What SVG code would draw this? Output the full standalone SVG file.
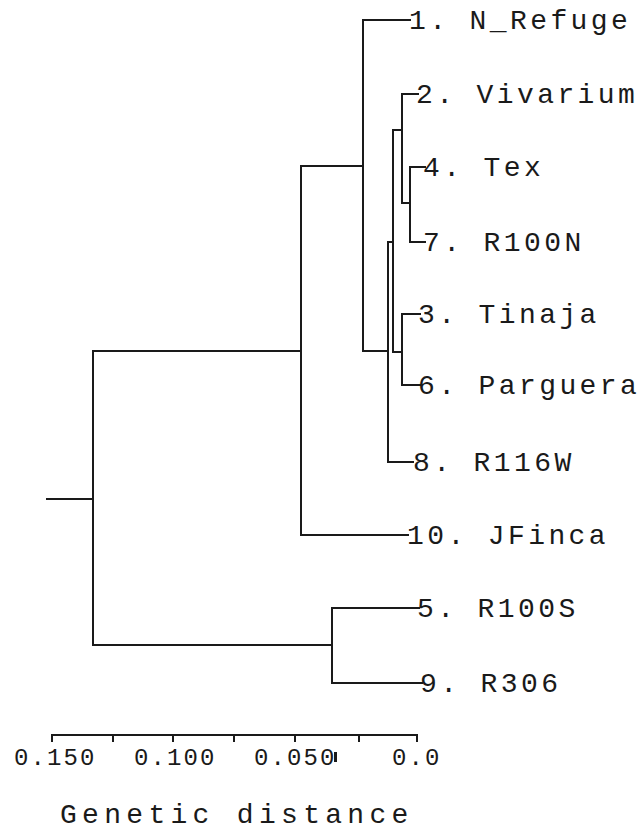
<svg xmlns="http://www.w3.org/2000/svg" width="639" height="834" viewBox="0 0 639 834">
  <style>
    .br { fill: none; stroke: #1a1a1a; stroke-width: 2; stroke-linecap: square; }
    .lbl { font-family: "Liberation Mono", "DejaVu Sans Mono", monospace; font-size: 28px; letter-spacing: 3.4px; fill: #1a1a1a; }
    .tick { font-family: "Liberation Mono", "DejaVu Sans Mono", monospace; font-size: 24px; letter-spacing: 2.1px; fill: #1a1a1a; }
    .title { font-family: "Liberation Mono", "DejaVu Sans Mono", monospace; font-size: 28px; letter-spacing: 5.3px; fill: #1a1a1a; }
  </style>
  <rect width="639" height="834" fill="#ffffff"/>

  <!-- dendrogram branches -->
  <g id="connectors" class="br">
    <!-- root -->
    <path d="M47,499 H93 M93,351 V645"/>
    <!-- main clade -->
    <path d="M93,351 H301 M301,166 V535 M301,535 H408"/>
    <!-- N_Refuge clade -->
    <path d="M301,166 H363 M363,20 V351 M363,20 H410"/>
    <!-- inner clades -->
    <path d="M363,351 H388 M388,242 V462 M388,462 H413"/>
    <path d="M388,242 H393 M393,130 V352"/>
    <path d="M393,130 H402 M402,94 V203 M402,94 H418"/>
    <path d="M402,203 H410 M410,167 V242 M410,167 H425 M410,242 H425"/>
    <path d="M393,352 H402 M402,314 V385 M402,314 H420 M402,385 H420"/>
    <!-- outgroup -->
    <path d="M93,645 H332 M332,608 V683 M332,608 H419 M332,683 H422"/>
  </g>

  <!-- leaf labels -->
  <g id="leaf-1"><text class="lbl" x="409" y="29">1. N_Refuge</text></g>
  <g id="leaf-2"><text class="lbl" x="416" y="103">2. Vivarium</text></g>
  <g id="leaf-4"><text class="lbl" x="423" y="176">4. Tex</text></g>
  <g id="leaf-7"><text class="lbl" x="423" y="251">7. R100N</text></g>
  <g id="leaf-3"><text class="lbl" x="418" y="323">3. Tinaja</text></g>
  <g id="leaf-6"><text class="lbl" x="418" y="394">6. Parguera</text></g>
  <g id="leaf-8"><text class="lbl" x="413" y="471">8. R116W</text></g>
  <g id="leaf-10"><text class="lbl" x="407" y="544">10. JFinca</text></g>
  <g id="leaf-5"><text class="lbl" x="417" y="617">5. R100S</text></g>
  <g id="leaf-9"><text class="lbl" x="420" y="692">9. R306</text></g>

  <!-- distance scale -->
  <g id="axis">
    <path class="br" d="M52,735 H417 M52,735 V741 M113,735 V741 M173,735 V741 M234,735 V741 M295,735 V741 M359,735 V741 M417,735 V741"/>
    <text class="tick" x="14" y="765">0.150</text>
    <text class="tick" x="134" y="765">0.100</text>
    <text class="tick" x="254" y="765">0.050</text>
    <rect x="334" y="752" width="3" height="10" fill="#1a1a1a"/>
    <text class="tick" x="392" y="765">0.0</text>
    <text class="title" x="60" y="823">Genetic distance</text>
  </g>
</svg>
